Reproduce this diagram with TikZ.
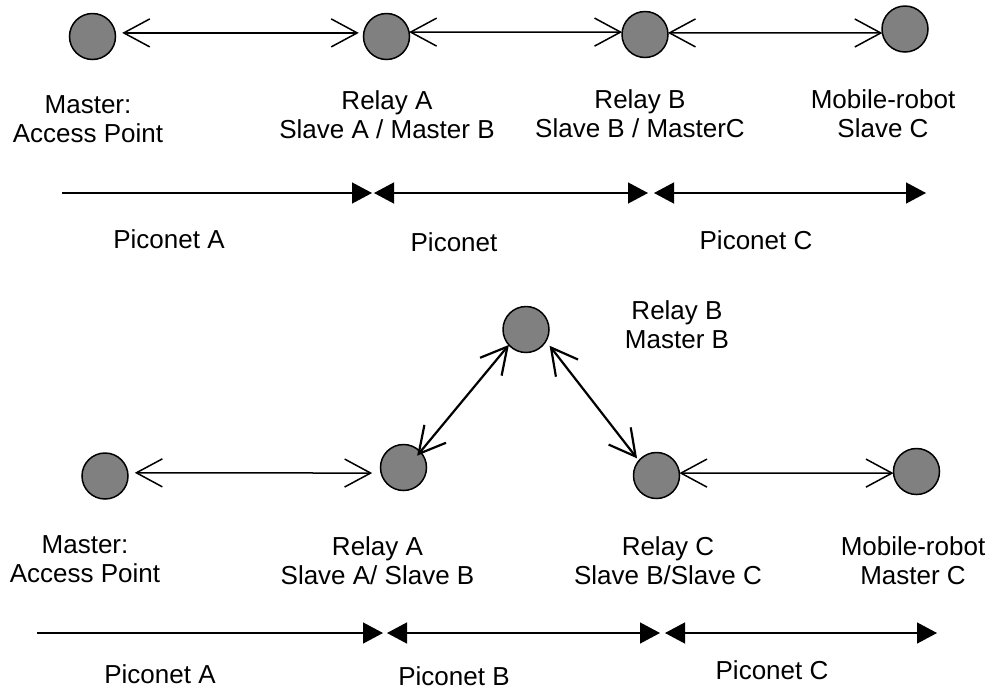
\documentclass[tikz,border=0pt]{standalone}
\usepackage{fontspec}
\setmainfont{Liberation Sans}
\usetikzlibrary{arrows.meta}
\definecolor{devgray}{RGB}{128,128,128}
\begin{document}
\begin{tikzpicture}[x=1pt,y=-1pt,
  dev/.style={circle,draw=black,fill=devgray,line width=1.5pt,minimum size=46pt,inner sep=0pt,outer sep=0pt},
  lbl/.style={anchor=north,align=center,inner sep=0pt,font=\fontsize{26}{29}\selectfont},
  link/.style={line width=1.5pt,{Straight Barb[length=26pt,width=28pt]}-{Straight Barb[length=26pt,width=28pt]}},
  dlink/.style={link,line width=2.2pt},
  span/.style={line width=1.4pt,-{Triangle[length=20pt,width=21pt]}},
  spantwo/.style={line width=1.4pt,{Triangle[length=20pt,width=21pt]}-{Triangle[length=20pt,width=21pt]}},
]
\fill[white] (0,0) rectangle (997,689);
\useasboundingbox (0,0) rectangle (997,689);

% ---- top chain ----
\node[dev] (a1) at (92.5,36.5) {};
\node[dev] (a2) at (386.5,36.5) {};
\node[dev] (a3) at (645,34.5) {};
\node[dev] (a4) at (905,29) {};

\draw[link,shorten <=7pt,shorten >=5pt] (a1.9) -- (a2.171);
\draw[link] (a2.11) -- (a3.174);
\draw[link] (a3.4) -- (a4.190);

\node[lbl] (la1) at (88,95) {Master:\\Access Point};
\node[lbl] (la2) at (387,90) {Relay A\\Slave A / Master B};
\node[lbl] (la3) at (640,89) {Relay B\\Slave B / MasterC};
\node[lbl] (la4) at (883,89) {Mobile-robot\\Slave C};

\coordinate (p1s) at (62,193);
\coordinate (p1e) at (372,193);
\coordinate (p2s) at (374,193);
\coordinate (p2e) at (648,193);
\coordinate (p3s) at (654,193);
\coordinate (p3e) at (926,193);
\draw[span] (p1s) -- (p1e);
\draw[spantwo] (p2s) -- (p2e);
\draw[spantwo] (p3s) -- (p3e);

\node[lbl] (pa1) at (169,229) {Piconet A};
\node[lbl] (pa2) at (454,232) {Piconet};
\node[lbl] (pa3) at (756,230) {Piconet C};

% ---- bottom topology ----
\node[dev] (b1) at (105,476) {};
\node[dev] (b2) at (403.5,467.5) {};
\node[dev] (b3) at (526,329.5) {};
\node[dev] (b4) at (656.5,475.5) {};
\node[dev] (b5) at (916.5,471.5) {};

\draw[link,shorten <=7pt,shorten >=9pt] (b1.8) -- (b2.194);
\draw[dlink,shorten <=-5pt] (b2.43) -- (b3.222);
\draw[dlink,shorten <=6pt,shorten >=3pt] (b3.-30) -- (b4.140);
\draw[link] (b4.6) -- (b5.184);

\node[lbl] (lb3) at (677,300) {Relay B\\Master B};
\node[lbl] (lb1) at (85,535) {Master:\\Access Point};
\node[lbl] (lb2) at (377.5,536) {Relay A\\Slave A/ Slave B};
\node[lbl] (lb4) at (668,536.5) {Relay C\\Slave B/Slave C};
\node[lbl] (lb5) at (913,536) {Mobile-robot\\Master C};

\coordinate (q1s) at (37,633);
\coordinate (q1e) at (383,633);
\coordinate (q2s) at (387,633);
\coordinate (q2e) at (660,633);
\coordinate (q3s) at (665,633);
\coordinate (q3e) at (937,633);
\draw[span] (q1s) -- (q1e);
\draw[spantwo] (q2s) -- (q2e);
\draw[spantwo] (q3s) -- (q3e);

\node[lbl] (pb1) at (160,664) {Piconet A};
\node[lbl] (pb2) at (454,666) {Piconet B};
\node[lbl] (pb3) at (772,660) {Piconet C};
\end{tikzpicture}
\end{document}
